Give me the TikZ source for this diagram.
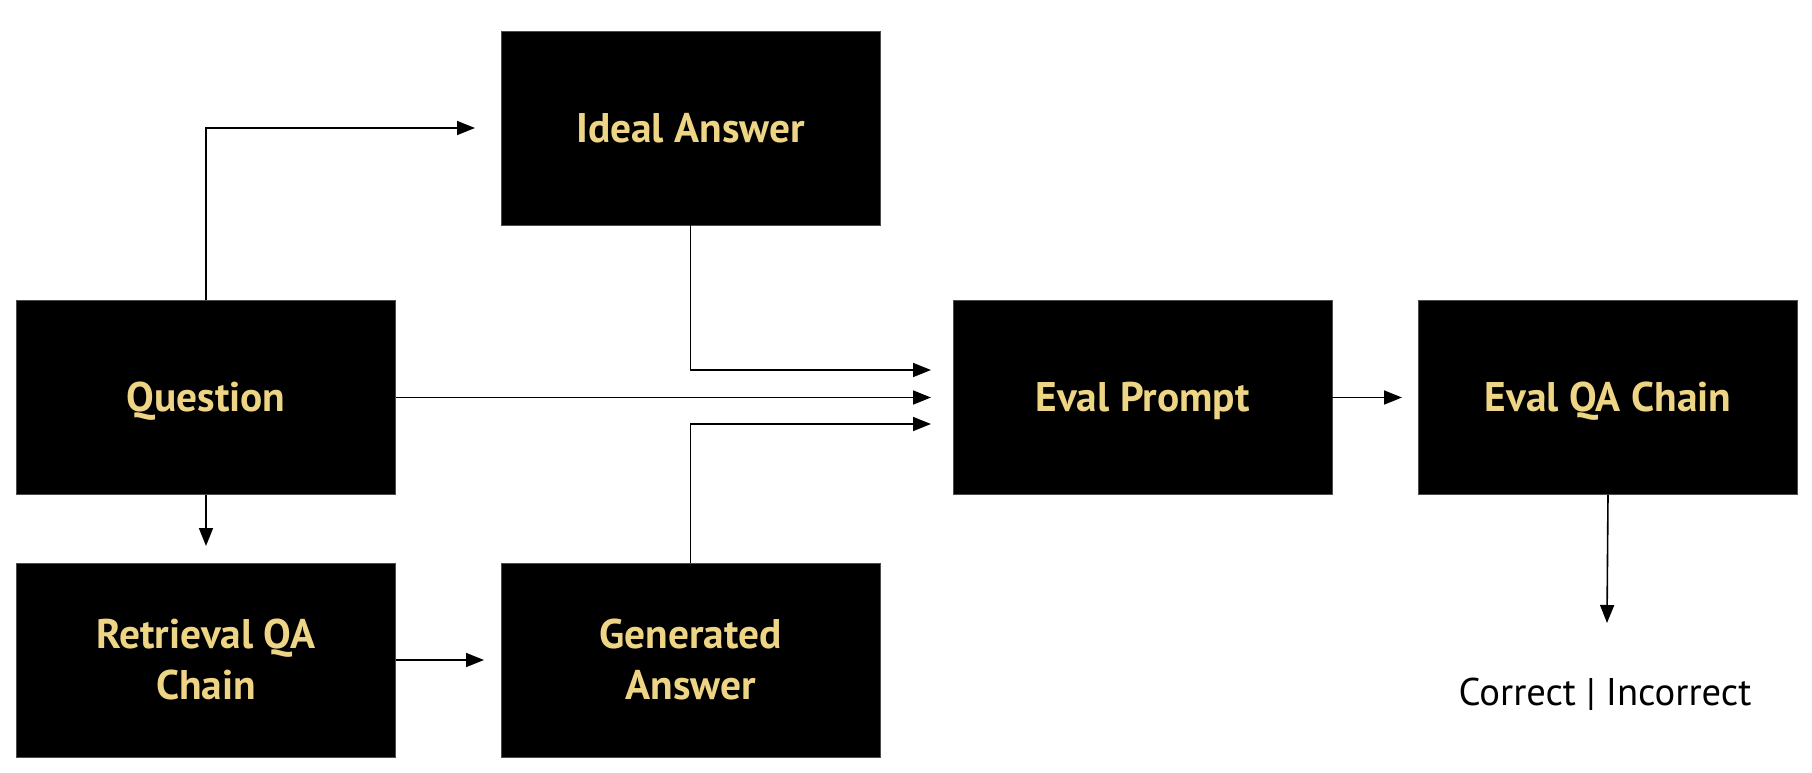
\documentclass[tikz,border=0pt]{standalone}
\usepackage{fontspec}
\setmainfont{PT Sans}
\usetikzlibrary{arrows.meta}
\definecolor{boxtext}{RGB}{238,213,133}
\tikzset{
  box/.style={rectangle, fill=black, draw=black!70, line width=0.4pt,
    minimum width=189.5pt, minimum height=97pt, inner sep=0pt,
    text=boxtext, align=center,
    font=\bfseries\fontsize{20.7pt}{25.5pt}\selectfont},
  oneline/.style={text height=14pt, text depth=0pt},
  conn/.style={line width=0.8pt, -{Triangle[length=9pt,width=7pt]}}
}
\begin{document}
\begin{tikzpicture}[x=0.5pt,y=-0.5pt]
\useasboundingbox (0,0) rectangle (1812,772);
\node[box,oneline] (ideal)  at (690.5,128)   {Ideal Answer};
\node[box,oneline] (question) at (206,397.5) {Question};
\node[box,oneline] (evalp)  at (1142.5,397.5) {Eval Prompt};
\node[box,oneline] (evalqa) at (1608,397.5)  {Eval QA Chain};
\node[box] (retr)   at (206,660)     {Retrieval QA\\Chain};
\node[box] (gen)    at (690.5,660)   {Generated\\Answer};
\node[anchor=base, inner sep=0pt, font=\fontsize{19.3pt}{23pt}\selectfont] (res) at (1605,705) {Correct | Incorrect};
\coordinate (ia) at (475,128);
\coordinate (ep1) at (931,370);
\coordinate (ep2) at (931,397.5);
\coordinate (ep3) at (931,424);
\coordinate (rq) at (206,546);
\coordinate (ga) at (484,660);
\coordinate (eq) at (1402,397.5);
\coordinate (rs) at (1607,623);
\draw[conn] (question.north) |- (ia);
\draw[conn] (ideal.south) |- (ep1);
\draw[conn] (question.east) -- (ep2);
\draw[conn] (gen.north) |- (ep3);
\draw[conn] (question.south) -- (rq);
\draw[conn] (retr.east) -- (ga);
\draw[conn] (evalp.east) -- (eq);
\draw[conn] (evalqa.south) -- (rs);
\end{tikzpicture}
\end{document}
